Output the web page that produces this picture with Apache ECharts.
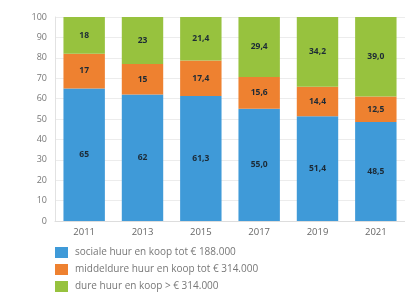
<!DOCTYPE html>
<html lang="nl">
<head>
<meta charset="UTF-8">
<title>Woningbouw naar segment</title>
<style>
    * { margin: 0; padding: 0; }
    body { background: #fff; }
    #chart { width: 405px; height: 299px; }
</style>
<script src="https://cdn.jsdelivr.net/npm/echarts@6/dist/echarts.min.js"></script>
</head>
<body>
<div id="chart"></div>
<script>
var years = ['2011', '2013', '2015', '2017', '2019', '2021'];
var sociaal = [65, 62, 61.3, 55.0, 51.4, 48.5];
var middelduur = [17, 15, 17.4, 15.6, 14.4, 12.5];
var duur = [18, 23, 21.4, 29.4, 34.2, 39.0];
var names = [
    'sociale huur en koop tot € 188.000',
    'middeldure huur en koop tot € 314.000',
    'dure huur en koop > € 314.000'
];
var colors = ['#3f9ad8', '#ee8130', '#97c23e'];

// 2011 en 2013 zonder decimaal, daarna met komma
function fmt(p) {
    if (p.dataIndex < 2) return String(Math.round(p.value));
    return p.value.toFixed(1).replace('.', ',');
}

function serie(name, data, color) {
    return {
        name: name,
        type: 'bar',
        stack: 'totaal',
        data: data,
        barWidth: '71%',
        itemStyle: { color: color },
        label: {
            show: true,
            position: 'inside',
            formatter: fmt,
            color: '#1c2a36',
            fontSize: 8.5,
            fontWeight: 'bold',
            fontFamily: 'Open Sans'
        }
    };
}

var chart = echarts.init(document.getElementById('chart'));
chart.setOption({
    animation: false,
    color: colors,
    grid: { left: 55, top: 17, width: 356, height: 204 },
    legend: {
        orient: 'vertical',
        left: 55,
        top: 247,
        padding: 0,
        itemWidth: 13,
        itemHeight: 11,
        itemGap: 6,
        icon: 'rect',
        textStyle: { color: '#777', fontSize: 10, fontFamily: 'Open Sans', lineHeight: 11, padding: [0, 0, 0, 2] },
        data: names
    },
    xAxis: {
        type: 'category',
        data: years,
        axisLine: { lineStyle: { color: '#ddd' } },
        axisTick: { show: false },
        axisLabel: { color: '#666', fontSize: 9.5, fontFamily: 'Open Sans', margin: 6 }
    },
    yAxis: {
        type: 'value',
        min: 0,
        max: 100,
        interval: 10,
        axisLine: { show: true, lineStyle: { color: '#e2e2e2' } },
        axisTick: { show: false },
        axisLabel: { color: '#777', fontSize: 9, fontFamily: 'Open Sans', margin: 8 },
        splitLine: { lineStyle: { color: '#ececec' } }
    },
    series: [
        serie(names[0], sociaal, colors[0]),
        serie(names[1], middelduur, colors[1]),
        serie(names[2], duur, colors[2])
    ]
});
</script>
</body>
</html>
